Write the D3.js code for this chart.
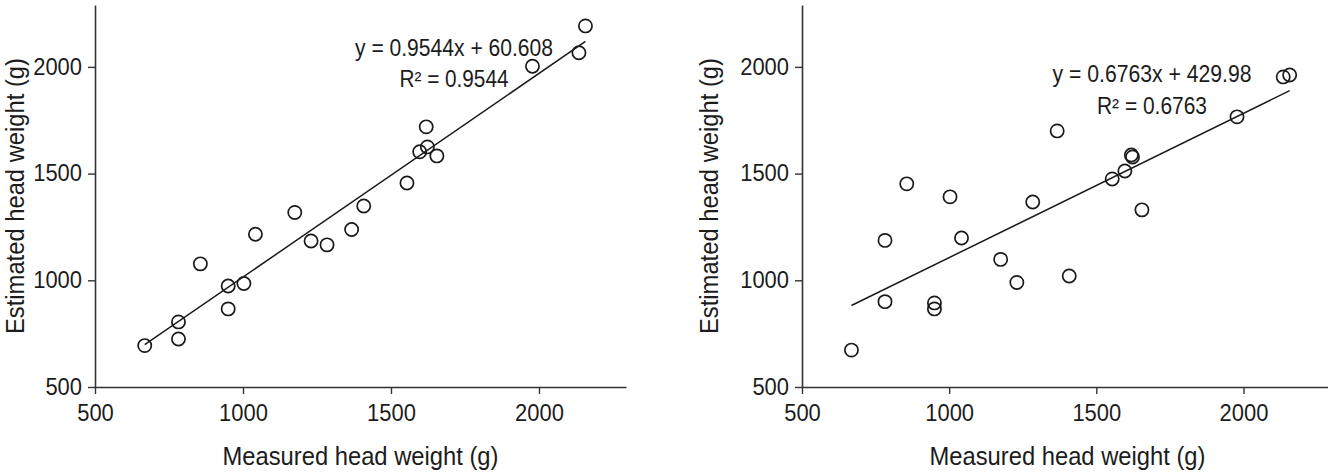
<!DOCTYPE html>
<html>
<head>
<meta charset="utf-8">
<script src="https://cdn.jsdelivr.net/npm/d3@7"></script>
<style>
  html, body { margin: 0; padding: 0; background: #fff; }
  svg { display: block; }
  text { font-family: "Liberation Sans", Arial, sans-serif; fill: #1c1c1c; }
</style>
</head>
<body>
<svg id="chart" width="1328" height="474"></svg>
<script>
// ---- data ----
const measured = [668, 782, 782, 856, 950, 950, 1003, 1042, 1175, 1230, 1284, 1367, 1408, 1554, 1597, 1619, 1623, 1655, 1978, 2135, 2157];
const estimatedA = [694, 805, 725, 1077, 973, 866, 985, 1216, 1318, 1184, 1166, 1238, 1348, 1456, 1602, 1719, 1625, 1583, 2003, 2066, 2192];
const estimatedB = [673, 900, 1187, 1452, 894, 866, 1391, 1198, 1098, 990, 1367, 1700, 1020, 1475, 1512, 1587, 1578, 1330, 1766, 1953, 1962];
const slopes = [0.9544, 0.6763];
const intercepts = [60.608, 429.98];
const eqLabels = ["y = 0.9544x + 60.608", "y = 0.6763x + 429.98"];
const r2Labels = ["R² = 0.9544", "R² = 0.6763"];
const xTicks = [500, 1000, 1500, 2000];
const yTicks = [500, 1000, 1500, 2000];
const xTitle = "Measured head weight (g)";
const yTitle = "Estimated head weight (g)";

const svg = d3.select("#chart");

const panels = [
  { x0: 95, x1: 626, est: estimatedA, eqX: 454, eqY: 56, r2Y: 87, eqLen: 198, r2Len: 109, titleX: 24 },
  { x0: 802, x1: 1330, est: estimatedB, eqX: 1152, eqY: 82, r2Y: 114, eqLen: 199, r2Len: 110, titleX: 718 }
];

const yTop = 5, yBot = 387;

panels.forEach((p, i) => {
  const x = d3.scaleLinear().domain([500, 2294]).range([p.x0, p.x1]);
  const y = d3.scaleLinear().domain([500, 2290]).range([yBot, yTop]);
  const g = svg.append("g");

  // axes
  const xa = g.append("g").attr("transform", `translate(0,${yBot})`)
    .call(d3.axisBottom(x).tickValues(xTicks).tickSize(7).tickSizeOuter(0).tickPadding(5).tickFormat(d3.format("d")));
  const ya = g.append("g").attr("transform", `translate(${p.x0},0)`)
    .call(d3.axisLeft(y).tickValues(yTicks).tickSize(7).tickSizeOuter(0).tickPadding(6).tickFormat(d3.format("d")));
  [xa, ya].forEach(a => {
    a.select(".domain").attr("stroke", "#333").attr("stroke-width", 1.6);
    a.selectAll(".tick line").attr("stroke", "#333").attr("stroke-width", 1.4);
    a.selectAll(".tick text").attr("fill", "#1c1c1c").style("font-size", "23px")
      .style("font-family", '"Liberation Sans", Arial, sans-serif')
      .attr("textLength", d => String(d).length * 12.2).attr("lengthAdjust", "spacingAndGlyphs");
  });
  xa.selectAll(".tick text").attr("dy", "0.95em");

  // regression line
  const xmin = d3.min(measured), xmax = d3.max(measured);
  g.append("line")
    .attr("x1", x(xmin)).attr("y1", y(slopes[i] * xmin + intercepts[i]))
    .attr("x2", x(xmax)).attr("y2", y(slopes[i] * xmax + intercepts[i]))
    .attr("stroke", "#1a1a1a").attr("stroke-width", 1.5);

  // points
  g.selectAll("circle.pt").data(measured.map((m, k) => [m, p.est[k]]))
    .join("circle").attr("class", "pt")
    .attr("cx", d => x(d[0])).attr("cy", d => y(d[1]))
    .attr("r", 6.6).attr("fill", "none").attr("stroke", "#1a1a1a").attr("stroke-width", 1.7);

  // equation text
  g.append("text").attr("x", p.eqX).attr("y", p.eqY).attr("text-anchor", "middle")
    .style("font-size", "23px").attr("textLength", p.eqLen).attr("lengthAdjust", "spacingAndGlyphs")
    .text(eqLabels[i]);
  g.append("text").attr("x", p.eqX).attr("y", p.r2Y).attr("text-anchor", "middle")
    .style("font-size", "23px").attr("textLength", p.r2Len).attr("lengthAdjust", "spacingAndGlyphs")
    .text(r2Labels[i]);

  // axis titles
  const cx = (p.x0 + 626 - 95 + p.x0) / 2;
  g.append("text").attr("x", cx).attr("y", 465).attr("text-anchor", "middle")
    .style("font-size", "25px").attr("textLength", 276).attr("lengthAdjust", "spacingAndGlyphs")
    .text(xTitle);
  g.append("text").attr("transform", `translate(${p.titleX},${(yTop + yBot) / 2}) rotate(-90)`)
    .attr("text-anchor", "middle")
    .style("font-size", "25px").attr("textLength", 276).attr("lengthAdjust", "spacingAndGlyphs")
    .text(yTitle);
});
</script>
</body>
</html>
